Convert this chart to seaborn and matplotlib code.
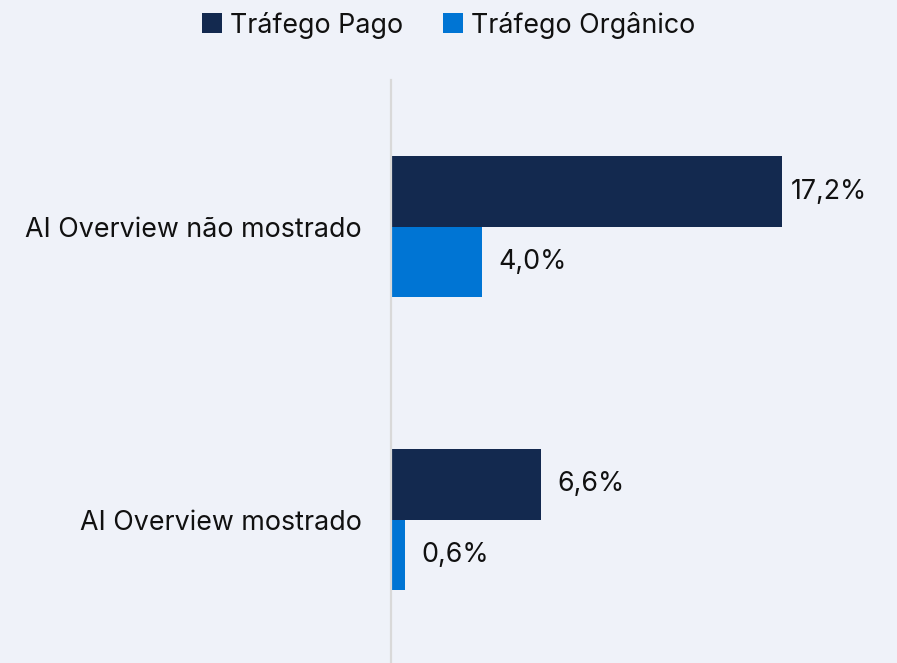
import pandas as pd
import matplotlib.pyplot as plt
import seaborn as sns

categories = ["AI Overview não mostrado", "AI Overview mostrado"]
series = ["Tráfego Pago", "Tráfego Orgânico"]
pago = [17.2, 6.6]
organico = [4.0, 0.6]
colors = ["#13294F", "#0075D4"]
bg = "#EFF2F9"

df = pd.DataFrame({
    "categoria": categories * 2,
    "serie": [series[0]] * 2 + [series[1]] * 2,
    "valor": pago + organico,
})

sns.set_theme(style="white")
plt.rcParams["font.family"] = ["Inter", "DejaVu Sans"]

fig = plt.figure(figsize=(8.97, 6.63), dpi=100, facecolor=bg)
ax = fig.add_axes([0.436, 0.0, 0.564, 0.879])
ax.set_facecolor(bg)

sns.barplot(data=df, y="categoria", x="valor", hue="serie", order=categories,
            hue_order=series, palette=colors, width=0.48, orient="h",
            saturation=1, linewidth=0, ax=ax, legend=True)

for container in ax.containers:
    labels = [f"{v:.1f}%".replace(".", ",") for v in container.datavalues]
    anns = ax.bar_label(container, labels=labels, padding=12, fontsize=19.3,
                        color="#111111")
    for ann, v in zip(anns, container.datavalues):
        # the longest bar label sits closer to its bar
        if v == max(pago):
            ann.xyann = (6, 0)

ax.set_xlim(0, 22.26)
ax.set_ylim(1.49, -0.5)
ax.set_xlabel("")
ax.set_ylabel("")
ax.set_xticks([])
ax.tick_params(axis="y", length=0, pad=21, labelsize=19.3, labelcolor="#111111")
for side in ["top", "right", "bottom"]:
    ax.spines[side].set_visible(False)
ax.spines["left"].set_color("#D9D9D9")
ax.spines["left"].set_linewidth(1.6)

handles, labels = ax.get_legend_handles_labels()
ax.get_legend().remove()
fig.legend(handles, labels, loc="upper center", bbox_to_anchor=(0.5, 1.019), ncol=2,
           frameon=False, fontsize=19.3, handlelength=0.75, handleheight=0.75,
           handletextpad=0.3, columnspacing=1.5, labelcolor="#111111")

fig.savefig("out.png", dpi=100, facecolor=bg)
